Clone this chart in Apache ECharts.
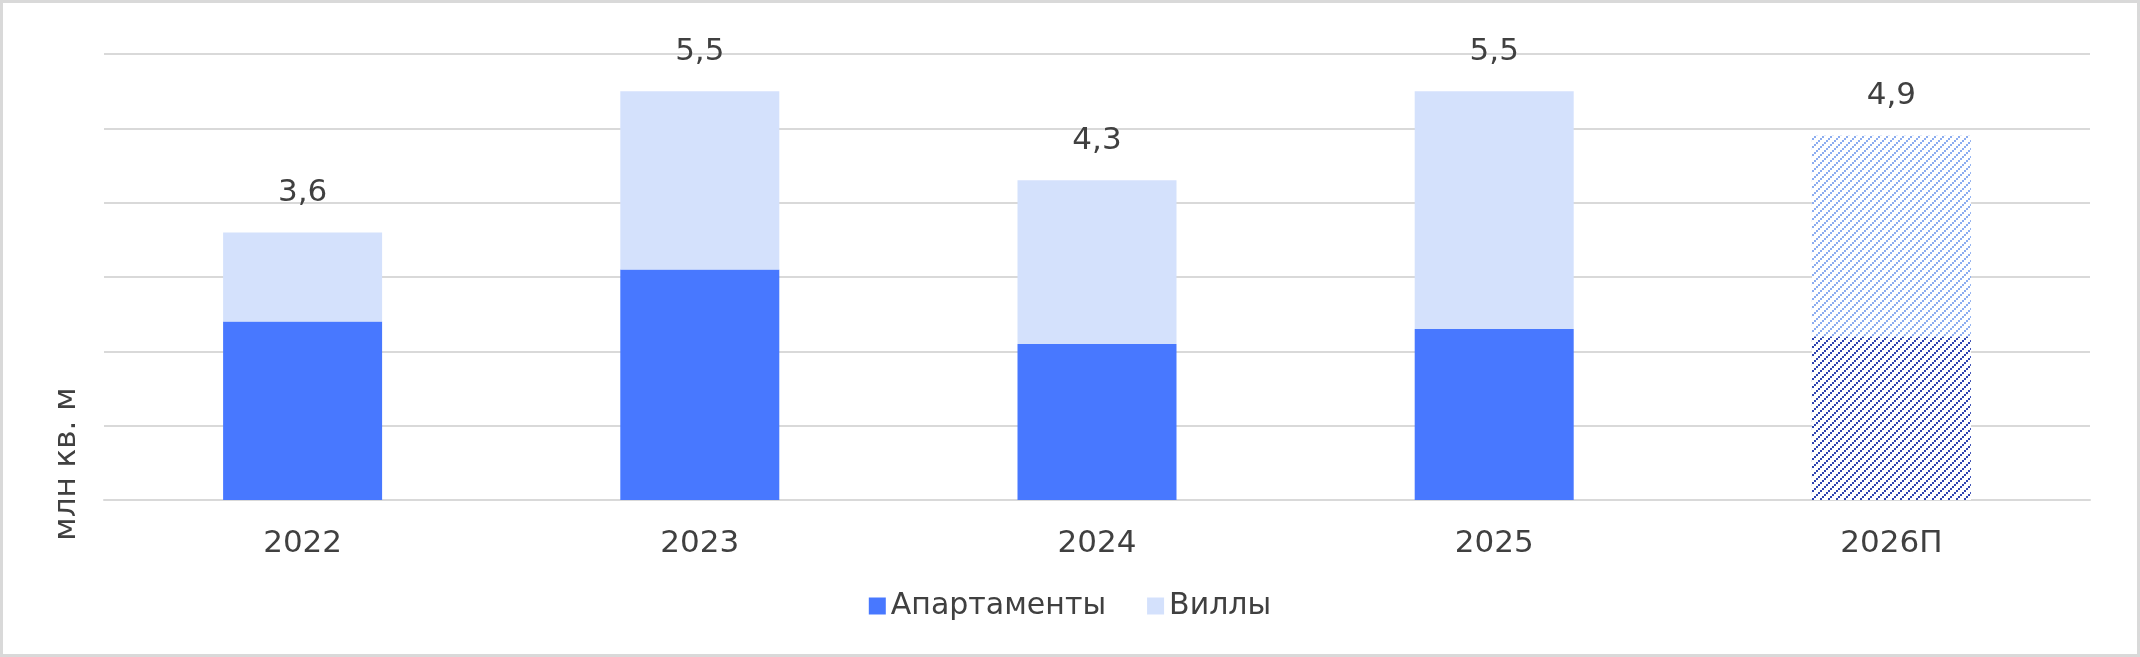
<!DOCTYPE html>
<html>
<head>
<meta charset="utf-8">
<script src="https://cdn.jsdelivr.net/npm/echarts@6/dist/echarts.min.js"></script>
<style>
  html, body { margin: 0; padding: 0; background: #fff; }
  #wrap { position: relative; width: 2140px; height: 657px; }
  #chart { position: absolute; left: 0; top: 0; width: 2140px; height: 657px; }
  #frame { position: absolute; left: 0; top: 0; width: 2140px; height: 657px; box-sizing: border-box; border: 3px solid #d9d9d9; pointer-events: none; }
</style>
</head>
<body>
<div id="wrap"><div id="chart"></div><div id="frame"></div></div>
<script>
const categories = ['2022', '2023', '2024', '2025', '2026П'];
const apartments = [2.4, 3.1, 2.1, 2.3, 2.2];
const villas = [1.2, 2.4, 2.2, 3.2, 2.7];
const totals = [3.6, 5.5, 4.3, 5.5, 4.9];
const seriesNames = ['Апартаменты', 'Виллы'];
const axisName = 'млн кв. м';
const forecastIndex = 4;

function hatch(color) {
  const s = 8;
  const c = document.createElement('canvas');
  c.width = s; c.height = s;
  const ctx = c.getContext('2d');
  ctx.fillStyle = '#ffffff';
  ctx.fillRect(0, 0, s, s);
  ctx.fillStyle = color;
  ctx.fillRect(0, 6, 2, 2);
  ctx.fillRect(2, 4, 2, 2);
  ctx.fillRect(4, 2, 2, 2);
  ctx.fillRect(6, 0, 2, 2);
  return c;
}

const aptColor = '#4878ff';
const villaColor = '#d4e1fc';

const aptData = apartments.map((v, i) => i === forecastIndex
  ? { value: v, itemStyle: { color: { image: hatch('#2e44b0'), repeat: 'repeat' } } }
  : v);
const villaData = villas.map((v, i) => i === forecastIndex
  ? { value: v, itemStyle: { color: { image: hatch('#8cadf0'), repeat: 'repeat' } } }
  : v);

const font = 'DejaVu Sans';
const fs = 31;
const chart = echarts.init(document.getElementById('chart'), null, { renderer: 'canvas' });
chart.setOption({
  animation: false,
  backgroundColor: '#ffffff',
  textStyle: { fontFamily: font },
  grid: { left: 104, right: 50, top: 54, bottom: 157 },
  legend: {
    data: seriesNames,
    left: 'center',
    top: 586,
    icon: 'rect',
    itemWidth: 17,
    itemHeight: 17,
    itemGap: 41,
    textStyle: { fontFamily: font, fontSize: 30, color: '#404040' }
  },
  xAxis: {
    type: 'category',
    data: categories,
    axisLine: { lineStyle: { color: '#d9d9d9', width: 2 } },
    axisTick: { show: false },
    axisLabel: { fontFamily: font, fontSize: fs, color: '#404040', margin: 28 }
  },
  yAxis: {
    type: 'value',
    min: 0, max: 6, interval: 1,
    axisLabel: { show: false },
    axisLine: { show: false },
    axisTick: { show: false },
    splitLine: { lineStyle: { color: '#d9d9d9', width: 2 } }
  },
  graphic: [{
    type: 'text',
    x: 67, y: 464,
    rotation: Math.PI / 2,
    style: {
      text: axisName,
      font: fs + 'px "DejaVu Sans"',
      fill: '#404040',
      textAlign: 'center',
      textVerticalAlign: 'middle'
    }
  }],
  series: [
    {
      name: seriesNames[0], type: 'bar', stack: 'total',
      barWidth: 159,
      itemStyle: { color: aptColor },
      data: aptData
    },
    {
      name: seriesNames[1], type: 'bar', stack: 'total',
      barWidth: 159,
      itemStyle: { color: villaColor },
      label: {
        show: true, position: 'top', distance: 24,
        fontFamily: font, fontSize: fs, lineHeight: 31, color: '#404040',
        formatter: p => String(totals[p.dataIndex]).replace('.', ',')
      },
      data: villaData
    }
  ]
});
</script>
</body>
</html>
